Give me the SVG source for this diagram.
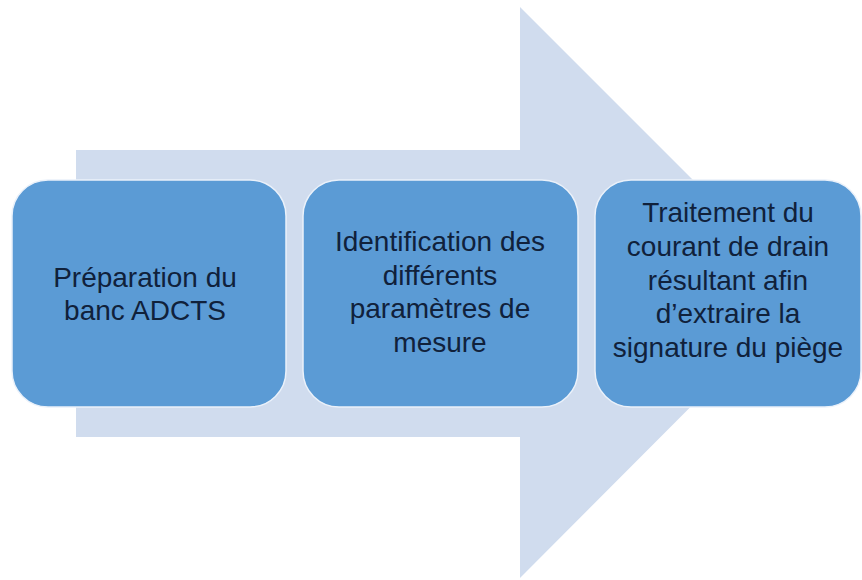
<svg xmlns="http://www.w3.org/2000/svg" width="862" height="580" viewBox="0 0 862 580">
<style>
.box{fill:#5B9BD5;stroke:#EAF1FA;stroke-width:1.5}
.t{font-family:"Liberation Sans",Arial,sans-serif;font-size:28px;fill:#10213B;text-anchor:middle}
</style>
<rect width="862" height="580" fill="#FFFFFF"/>
<g id="arrow">
<polygon points="76,150 520,150 520,7 805,292 520,578 520,437 76,437" fill="#D0DCEE"/>
</g>
<g id="connectors"></g>
<g id="node1">
<rect class="box" x="12" y="180" width="274" height="227" rx="36"/>
<text class="t" x="145" y="287">Préparation du</text>
<text class="t" x="145" y="320">banc ADCTS</text>
</g>
<g id="node2">
<rect class="box" x="303" y="180" width="275" height="227" rx="36"/>
<text class="t" x="440" y="251">Identification des</text>
<text class="t" x="440" y="285">différents</text>
<text class="t" x="440" y="318">paramètres de</text>
<text class="t" x="440" y="352">mesure</text>
</g>
<g id="node3">
<rect class="box" x="595" y="180" width="266" height="227" rx="36"/>
<text class="t" x="728" y="222">Traitement du</text>
<text class="t" x="728" y="256">courant de drain</text>
<text class="t" x="728" y="290">résultant afin</text>
<text class="t" x="728" y="323">d’extraire la</text>
<text class="t" x="728" y="357">signature du piège</text>
</g>
</svg>
